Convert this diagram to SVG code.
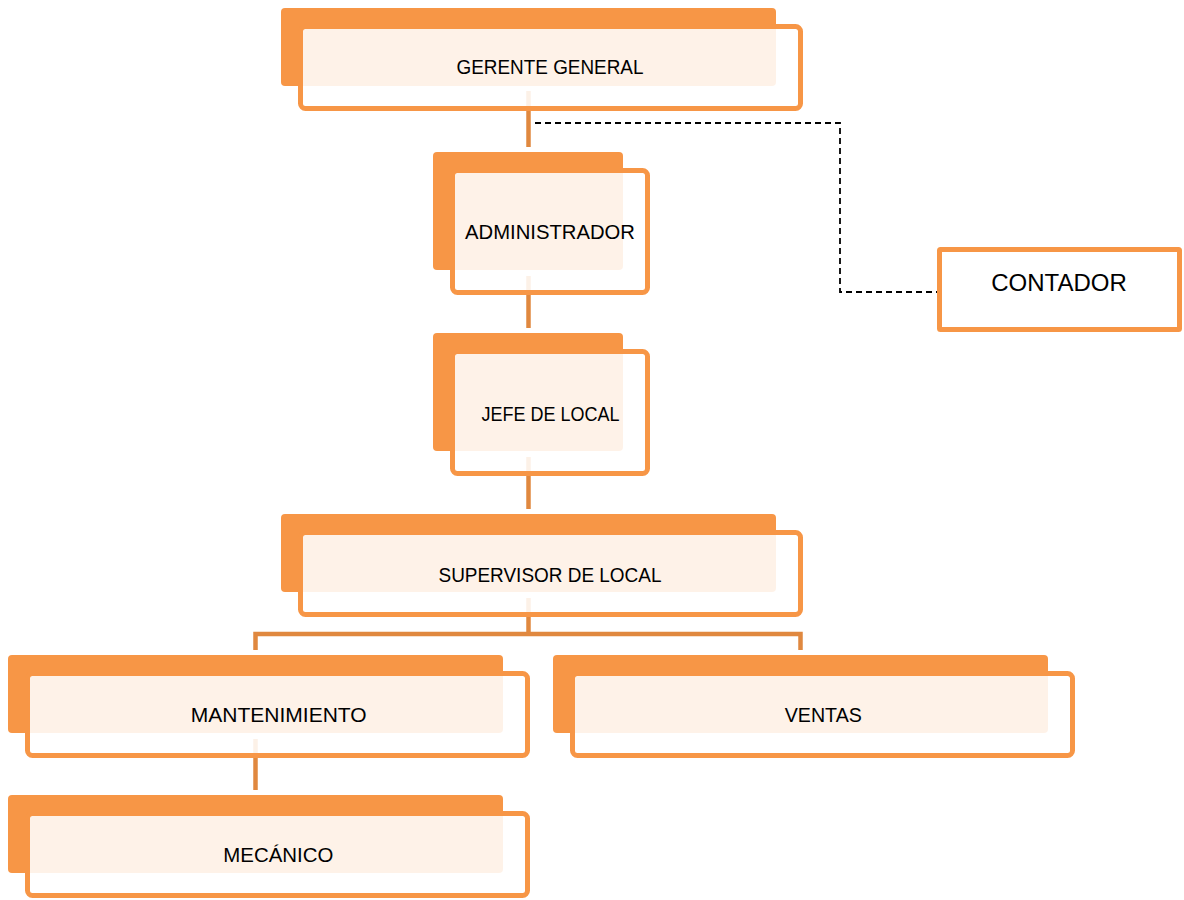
<svg xmlns="http://www.w3.org/2000/svg" width="1184" height="900" viewBox="0 0 1184 900">
<style>
.back{fill:#F79646;}
.front{fill:#FFFFFF;fill-opacity:0.88;stroke:#F79646;stroke-width:5;}
.lbl{font-family:"Liberation Sans",Arial,sans-serif;font-size:20px;fill:#000;text-anchor:middle;}
.conn{fill:none;stroke:#E0883F;stroke-width:4.5;stroke-linejoin:miter;}
.dash{fill:none;stroke:#000;stroke-width:1.8;stroke-dasharray:6 4;}
</style>
<rect width="1184" height="900" fill="#FFFFFF"/>
<g id="connectors">
<path class="conn" d="M528.5,91 V147"/>
<path class="conn" d="M528.5,276 V328"/>
<path class="conn" d="M528.5,457 V509"/>
<path class="conn" d="M528.5,598 V634"/>
<path class="conn" d="M255.5,650 V634 H800.5 V650"/>
<path class="conn" d="M255.5,739 V790"/>
<path class="dash" d="M535,123 H840 V292 H937"/>
</g>
<g id="gerente">
<rect class="back" x="281" y="8" width="495" height="78" rx="4"/>
<rect class="front" x="300.5" y="26.5" width="500" height="82" rx="5"/>
<text class="lbl" x="550" y="74.3" textLength="187" lengthAdjust="spacingAndGlyphs">GERENTE GENERAL</text>
</g>
<g id="administrador">
<rect class="back" x="433" y="152" width="190" height="118" rx="4"/>
<rect class="front" x="452.5" y="170.5" width="195" height="122" rx="5"/>
<text class="lbl" x="550" y="239" textLength="170" lengthAdjust="spacingAndGlyphs">ADMINISTRADOR</text>
</g>
<g id="jefe">
<rect class="back" x="433" y="333" width="190" height="118" rx="4"/>
<rect class="front" x="452.5" y="351.5" width="195" height="122" rx="5"/>
<text class="lbl" x="550.5" y="421" textLength="138" lengthAdjust="spacingAndGlyphs">JEFE DE LOCAL</text>
</g>
<g id="supervisor">
<rect class="back" x="281" y="514" width="495" height="78" rx="4"/>
<rect class="front" x="300.5" y="532.5" width="500" height="82" rx="5"/>
<text class="lbl" x="550" y="581.5" textLength="223" lengthAdjust="spacingAndGlyphs">SUPERVISOR DE LOCAL</text>
</g>
<g id="mantenimiento">
<rect class="back" x="8" y="655" width="495" height="78" rx="4"/>
<rect class="front" x="27.5" y="673.5" width="500" height="82" rx="5"/>
<text class="lbl" x="278.7" y="722" textLength="176" lengthAdjust="spacingAndGlyphs">MANTENIMIENTO</text>
</g>
<g id="ventas">
<rect class="back" x="553" y="655" width="495" height="78" rx="4"/>
<rect class="front" x="572.5" y="673.5" width="500" height="82" rx="5"/>
<text class="lbl" x="823.3" y="722" textLength="77" lengthAdjust="spacingAndGlyphs">VENTAS</text>
</g>
<g id="mecanico">
<rect class="back" x="8" y="795" width="495" height="78" rx="4"/>
<rect class="front" x="27.5" y="813.5" width="500" height="82" rx="5"/>
<text class="lbl" x="278.3" y="861.5" textLength="110" lengthAdjust="spacingAndGlyphs">MECÁNICO</text>
</g>
<g id="contador">
<rect x="939.5" y="249.5" width="240" height="80" rx="1" fill="#FFFFFF" stroke="#F79646" stroke-width="5"/>
<text class="lbl" x="1059" y="290.6" style="font-size:24px">CONTADOR</text>
</g>
</svg>
